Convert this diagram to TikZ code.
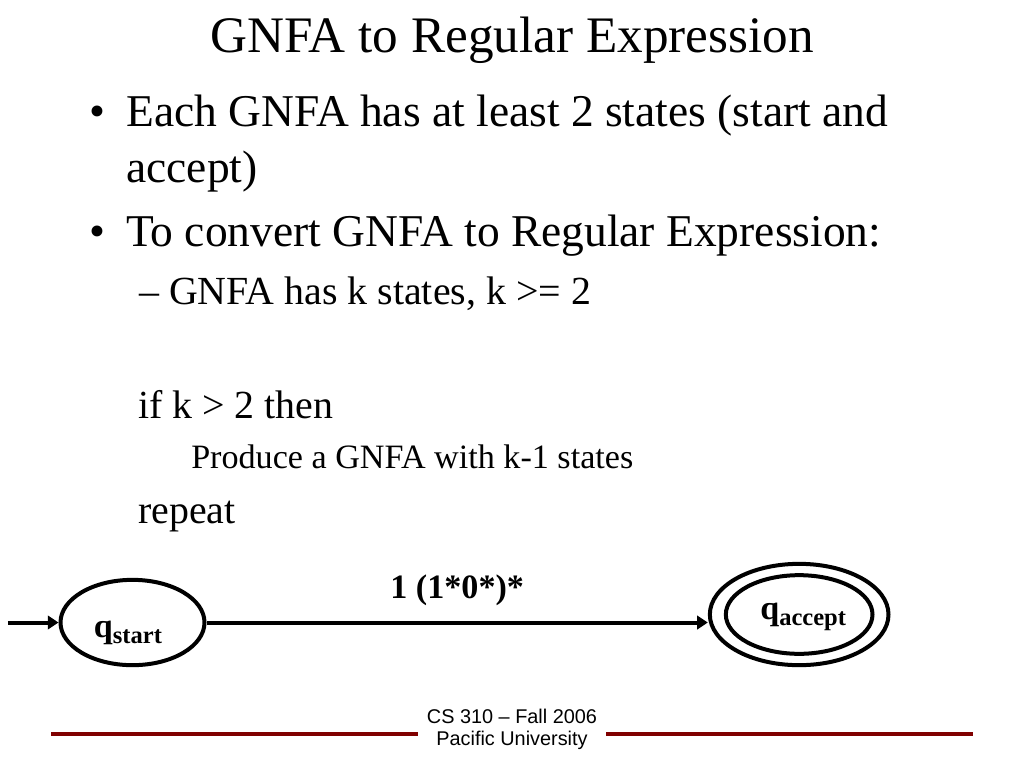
\documentclass[tikz,border=0pt]{standalone}
\usepackage{fontspec}
\setmainfont{Liberation Serif}
\setsansfont{Liberation Sans}
\usetikzlibrary{arrows.meta,shapes.geometric}
\definecolor{footred}{RGB}{128,0,0}
% state name: q with lowered subscript, shifted by (#1,#2)
\newcommand{\qname}[3]{\raisebox{#2}[0pt][0pt]{\makebox[0pt]{\hspace*{#1}\hspace*{#1}q\fontsize{18.4}{20}\selectfont\raisebox{-4.5pt}{#3}}}}

\begin{document}
\begin{tikzpicture}[x=0.75pt,y=-0.75pt,>={Triangle[length=8pt,width=10pt]},
  node distance=500pt,
  state/.style={ellipse,draw,line width=3pt,inner sep=0pt,
  font=\fontsize{25.6}{30}\bfseries},
  ring/.style={ellipse,draw,line width=3pt,inner sep=0pt,
  minimum width=134pt,minimum height=76pt},
  body/.style={anchor=base west,inner sep=0pt,font=\fontsize{34.1}{41}\selectfont},
  subbody/.style={body,font=\fontsize{29.9}{36}\selectfont},
  smallbody/.style={body,font=\fontsize{25.6}{31}\selectfont}]

  \fill[white] (0,0) rectangle (1024,768);
  \useasboundingbox (0,0) rectangle (1024,768);

  \node[anchor=base,inner sep=0pt,font=\fontsize{38.4}{46}\selectfont] (title) at (512,52) {GNFA to Regular Expression};

  \node[body] (bulleta) at (89,126) {•};
  \node[body] (lineone) at (126,126) {Each GNFA has at least 2 states (start and};
  \node[body] (linetwo) at (126,182) {accept)};
  \node[body] (bulletb) at (89,246) {•};
  \node[body] (linethree) at (126,246) {To convert GNFA to Regular Expression:};
  \node[subbody] (linefour) at (139,304) {– GNFA has k states, k >= 2};
  \node[subbody] (linefive) at (138,418) {if k > 2 then};
  \node[smallbody] (linesix) at (191,468) {Produce a GNFA with k-1 states};
  \node[subbody] (lineseven) at (138,523) {repeat};

  \node[state,minimum width=108pt,minimum height=64pt] (start) at (132.5,622.5) {\qname{-3.4pt}{-10.9pt}{start}};
  \node[state,minimum width=110pt,minimum height=59pt] (accept) [right of=start,yshift=6pt] {\qname{3pt}{-3.4pt}{accept}};
  \node[ring] (ring) at (accept.center) {};
  \coordinate (entry) at ([xshift=-93.4pt]start.center);

  \path[->,line width=3pt]
    (entry) edge (start)
    (start.east) edge node[above=11pt,inner sep=0pt,font=\fontsize{25.6}{30}\bfseries] {1 (1*0*)*} (start.east -| ring.west);

  \node[align=center,inner sep=0pt,font=\sffamily\fontsize{14.9}{16.5}\selectfont] (foot) at (512,729) {CS 310 – Fall 2006\\Pacific University};
  \draw[footred,line width=3pt] (51,734) -- (418,734) (606,734) -- (973,734);
\end{tikzpicture}
\end{document}
